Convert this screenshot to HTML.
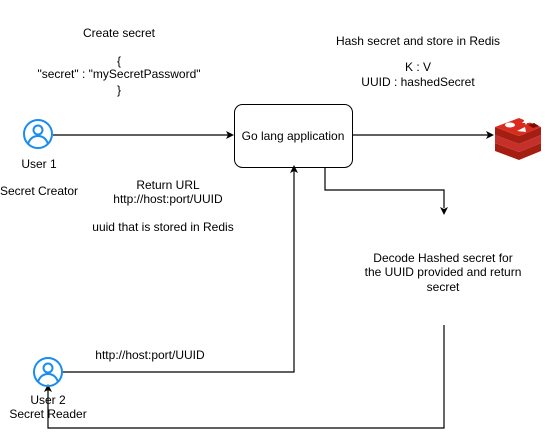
<!DOCTYPE html>
<html><head><style>
body{margin:0;background:#fff}
svg{display:block}
text{font-family:"Liberation Sans",Arial,sans-serif;font-size:12px;fill:#000}
</style></head><body>
<svg width="545" height="434" viewBox="0 0 545 434">
<g text-anchor="middle">
<text x="119" y="37">Create  secret</text>
<text x="119" y="65">{</text>
<text x="119" y="78">"secret" : "mySecretPassword"</text>
<text x="119" y="94">}</text>
<text x="418" y="45">Hash secret and store in Redis</text>
<text x="418" y="71">K : V</text>
<text x="418" y="86">UUID : hashedSecret</text>
<text x="39" y="168">User 1</text>
<text x="39" y="195">Secret Creator</text>
<text x="168" y="189">Return  URL</text>
<text x="168" y="203">http://host:port/UUID</text>
<text x="163" y="231">uuid that is stored in Redis</text>
<text x="443" y="262">Decode Hashed secret for</text>
<text x="443" y="276">the UUID provided and return</text>
<text x="443" y="291">secret</text>
<text x="150" y="359">http://host:port/UUID</text>
<text x="48" y="404">User 2</text>
<text x="48" y="418">Secret Reader</text>
<text x="293" y="140">Go lang application</text>
</g>
<rect x="234.5" y="104.5" width="118" height="63" rx="8" fill="none" stroke="#000"/>
<g fill="none" stroke="#000" stroke-width="1.2">
<path d="M53 135H228"/>
<path d="M352 135H488"/>
<path d="M325 168V190H444V208"/>
<path d="M62 372H294V171"/>
<path d="M444 325V428H48V390"/>
</g>
<g fill="#000">
<path d="M234 135l-8-4 2 4-2 4z"/>
<path d="M494 135l-8-4 2 4-2 4z"/>
<path d="M444 215l-4-8 4 2 4-2z"/>
<path d="M294 165l-4 8 4-2 4 2z"/>
<path d="M48 384l-4 8 4-2 4 2z"/>
</g>
<g fill="none" stroke="#1a8cf0" stroke-width="2">
<circle cx="38" cy="134" r="14"/>
<circle cx="38" cy="130" r="4.5"/>
<path d="M28 144c2-6 6-8 10-8s8 2 10 8"/>
<circle cx="48" cy="372" r="14"/>
<circle cx="48" cy="368" r="4.5"/>
<path d="M38 382c2-6 6-8 10-8s8 2 10 8"/>
</g>
<g>
<path d="M495 143l24 9 22-9v8l-22 9-24-9z" fill="#a41e11"/>
<path d="M495 135l24 9 22-9v8l-22 9-24-9z" fill="#c6302b"/>
<path d="M495 127l24 9 22-9v8l-22 9-24-9z" fill="#a41e11"/>
<path d="M495 127l24-9 22 9-22 9z" fill="#d82c20"/>
<ellipse cx="510" cy="125" rx="5" ry="2.5" fill="#fff"/>
<path d="M517 131l8-4 1 5z" fill="#fff"/>
<path d="M524 118l2 2 3-1-1 2 2 2h-3l-1 2-1-2h-3l2-2z" fill="#fff"/>
<path d="M528 125l6-2 5 3-6 2z" fill="#7a0c00"/>
</g>
</svg>
</body></html>
